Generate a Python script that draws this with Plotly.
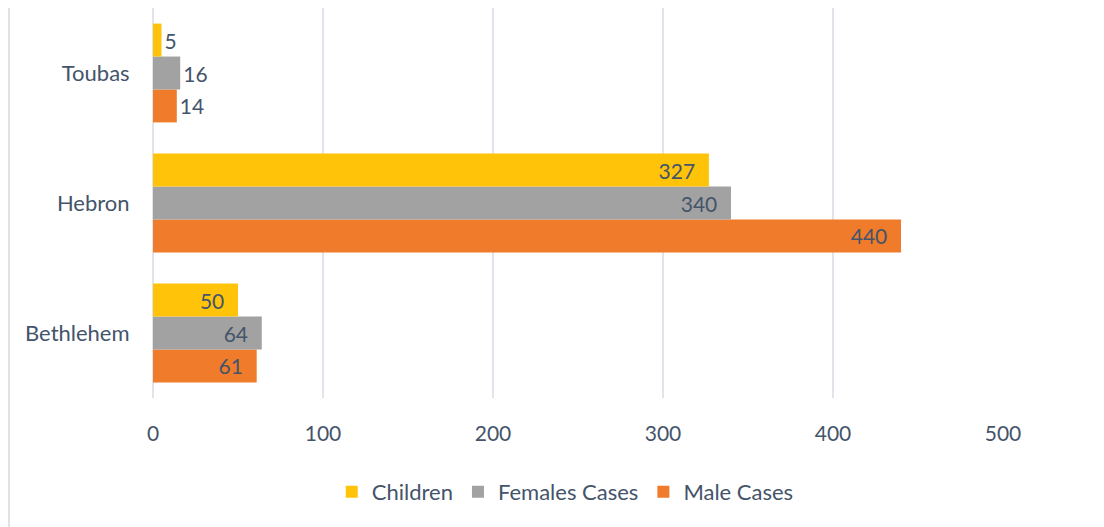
import plotly.graph_objects as go

districts = ['Bethlehem', 'Hebron', 'Toubas']
male_cases = [61, 440, 14]
female_cases = [64, 340, 16]
children = [50, 327, 5]

x_ticks = [0, 100, 200, 300, 400, 500]

text_color = '#44546A'
font_family = 'Lato, Open Sans, sans-serif'
pad = '\u00a0\u00a0'


def make_bar(values, name, color):
    return go.Bar(y=districts, x=values, name=name, orientation='h',
                  marker=dict(color=color, line=dict(width=0)),
                  text=[str(v) + pad if v > 40 else str(v) for v in values],
                  textposition=['inside' if v > 40 else 'outside' for v in values],
                  insidetextanchor='end',
                  textfont=dict(color=text_color, size=21, family=font_family),
                  cliponaxis=False)


traces = [
    make_bar(male_cases, 'Male Cases', '#F07B2B'),
    make_bar(female_cases, 'Females Cases', '#A2A2A2'),
    make_bar(children, 'Children', '#FFC30A'),
]

fig = go.Figure(data=traces)

# the page body adds 8px, so the margins are shifted to compensate
fig.update_layout(
    width=1096, height=519,
    margin=dict(l=145, r=101, t=0, b=129, autoexpand=False),
    barmode='group',
    bargap=0.24,
    bargroupgap=0,
    paper_bgcolor='white',
    plot_bgcolor='white',
    font=dict(family=font_family, size=21, color=text_color),
    legend=dict(orientation='h', traceorder='reversed',
                x=0.485, xanchor='center', y=-0.241, yanchor='middle',
                font=dict(size=22, color=text_color),
                itemwidth=30),
    xaxis=dict(range=[0, 500], tickvals=x_ticks, showgrid=True,
               gridcolor='#E1E4EA', gridwidth=2, zeroline=True,
               zerolinecolor='#E1E4EA', zerolinewidth=2,
               ticks='outside', ticklen=17, tickcolor='rgba(0,0,0,0)',
               tickfont=dict(size=21), showline=False),
    yaxis=dict(showgrid=False, zeroline=False, showline=False,
               ticks='outside', ticklen=18, tickcolor='rgba(0,0,0,0)',
               tickfont=dict(size=22)),
    shapes=[dict(type='line', xref='paper', yref='paper',
                 x0=-144 / 850, x1=-144 / 850, y0=1.05, y1=-129 / 390,
                 line=dict(color='#D9D9D9', width=1.5))],
)

fig.write_html("out.html")
